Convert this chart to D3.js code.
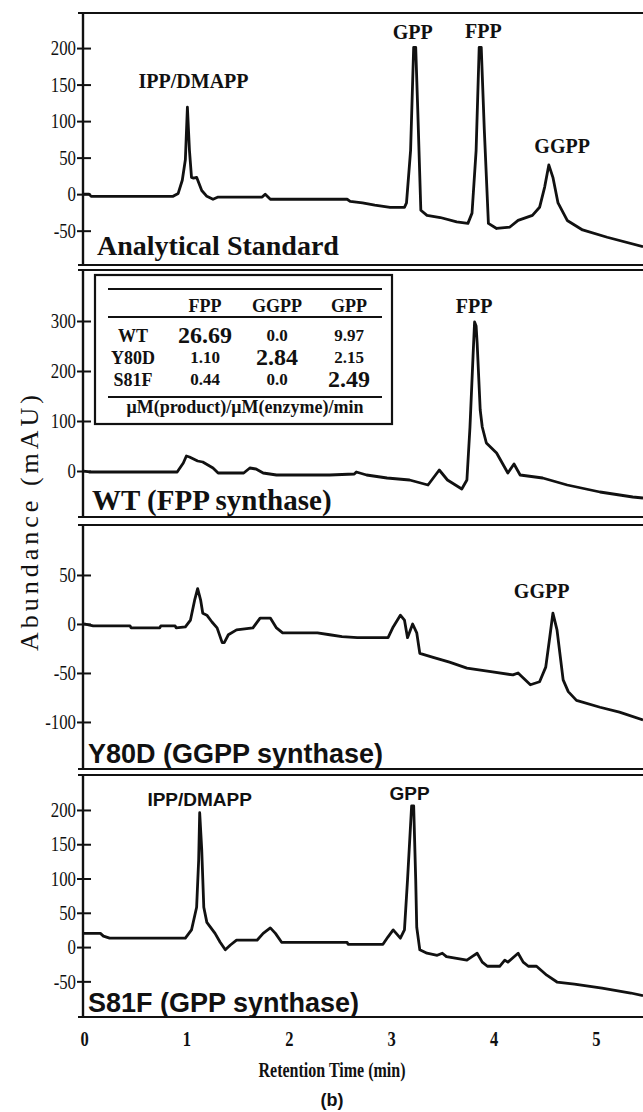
<!DOCTYPE html>
<html>
<head>
<meta charset="utf-8">
<script src="https://cdn.jsdelivr.net/npm/d3@7/dist/d3.min.js"></script>
<style>
  body { margin: 0; background: #fff; }
  svg { display: block; }
</style>
</head>
<body>
<svg id="chart"></svg>
<script>
// <==========================Data===========================================================>
// each trace is [retention time (min), abundance (mAU)]
const stdTrace = [[0,0],[0.05,0],[0.07,-3],[0.87,-3],[0.92,1],[0.96,19],[0.99,47],[1.01,119],[1.03,60],[1.05,23],[1.07,22],[1.10,23],[1.15,5],[1.20,-3],[1.26,-7],[1.31,-4],[1.74,-4],[1.77,0],[1.82,-7],[2.57,-7],[2.60,-10],[2.72,-12],[2.84,-15],[2.99,-18],[3.13,-18],[3.15,-12],[3.19,60],[3.22,201],[3.24,201],[3.26,115],[3.29,-22],[3.35,-29],[3.48,-32],[3.64,-38],[3.75,-40],[3.79,-26],[3.83,60],[3.86,201],[3.88,201],[3.91,88],[3.95,-40],[4.03,-47],[4.16,-45],[4.24,-36],[4.38,-29],[4.45,-18],[4.50,10],[4.54,40],[4.58,23],[4.63,-12],[4.72,-36],[4.87,-49],[5.11,-59],[5.46,-72]];
const wtTrace = [[0,0],[0.05,-2],[0.91,-2],[0.97,16],[1.00,30],[1.03,28],[1.11,20],[1.16,18],[1.26,6],[1.31,-4],[1.56,-4],[1.62,6],[1.68,4],[1.75,-4],[1.88,-8],[2.40,-8],[2.64,-6],[2.66,-2],[2.76,-8],[2.96,-14],[3.18,-18],[3.36,-28],[3.47,2],[3.55,-18],[3.69,-36],[3.74,-18],[3.77,88],[3.80,230],[3.815,298],[3.83,290],[3.84,256],[3.87,122],[3.89,88],[3.93,56],[4.03,36],[4.14,-4],[4.20,14],[4.26,-8],[4.48,-14],[4.72,-28],[5.04,-42],[5.36,-52],[5.46,-54]];
const y80dTrace = [[0,0],[0.09,-2],[0.45,-2],[0.46,-4],[0.74,-4],[0.75,-2],[0.89,-2],[0.90,-4],[0.99,-3],[1.04,4],[1.08,24],[1.11,36],[1.14,24],[1.16,11],[1.20,9],[1.25,2],[1.30,-4],[1.35,-19],[1.37,-19],[1.41,-11],[1.49,-6],[1.65,-4],[1.72,6],[1.82,6],[1.88,-4],[1.94,-9],[2.28,-9],[2.40,-11],[2.52,-13],[2.67,-14],[2.97,-14],[3.02,-3],[3.09,9],[3.13,4],[3.16,-14],[3.21,0],[3.25,-9],[3.28,-30],[3.41,-34],[3.57,-39],[3.74,-45],[3.99,-49],[4.19,-52],[4.24,-50],[4.26,-52],[4.36,-62],[4.45,-59],[4.51,-44],[4.55,-13],[4.58,11],[4.62,-6],[4.68,-57],[4.73,-69],[4.81,-78],[5.04,-85],[5.23,-90],[5.46,-98]];
const s81fTrace = [[0,20],[0.16,20],[0.19,16],[0.25,13],[0.99,13],[1.05,25],[1.10,58],[1.12,127],[1.13,196],[1.15,142],[1.17,58],[1.20,36],[1.28,20],[1.33,7],[1.38,-4],[1.43,3],[1.49,10],[1.69,10],[1.75,20],[1.82,28],[1.87,20],[1.93,7],[2.57,7],[2.58,4],[2.92,4],[2.97,15],[3.02,25],[3.09,13],[3.13,25],[3.16,98],[3.20,206],[3.22,206],[3.24,98],[3.25,29],[3.28,-4],[3.35,-9],[3.45,-12],[3.50,-9],[3.54,-14],[3.74,-19],[3.79,-14],[3.84,-9],[3.89,-22],[3.94,-28],[4.06,-28],[4.11,-19],[4.14,-22],[4.24,-9],[4.29,-22],[4.34,-28],[4.42,-28],[4.52,-41],[4.62,-51],[4.79,-54],[5.06,-60],[5.34,-67],[5.46,-71]];

// peak labels: text, time of label centre, abundance at label baseline
const stdPeaks = [["IPP/DMAPP",1.07,145],["GPP",3.21,212],["FPP",3.90,214],["GGPP",4.67,56]];
const wtPeaks = [["FPP",3.81,316]];
const y80dPeaks = [["GGPP",4.47,27]];
const s81fPeaks = [["IPP/DMAPP",1.13,206],["GPP",3.18,215]];

const panelNames = ["Analytical Standard", "WT (FPP synthase)", "Y80D (GGPP synthase)", "S81F (GPP synthase)"];
const stdTicks = [-50, 0, 50, 100, 150, 200];
const wtTicks = [0, 100, 200, 300];
const y80dTicks = [-100, -50, 0, 50];
const s81fTicks = [-50, 0, 50, 100, 150, 200];
const timeTicks = [0, 1, 2, 3, 4, 5];

// inset table: specific activity
const tableCols = ["FPP", "GGPP", "GPP"];
const tableRows = ["WT", "Y80D", "S81F"];
const tableValues = [["26.69", "0.0", "9.97"], ["1.10", "2.84", "2.15"], ["0.44", "0.0", "2.49"]];
const tableUnit = "μM(product)/μM(enzyme)/min";

// <==========================Layout==============================>
const width = 643;
const height = 1112;
const ink = "#111";
const serif = "'Liberation Serif', 'Times New Roman', serif";
const sans = "'Liberation Sans', Arial, sans-serif";
const axisX = 83;

const panels = [
  { name: panelNames[0], trace: stdTrace, peaks: stdPeaks, ticks: stdTicks, domain: [-97, 248], top: 13, bottom: 265,
    font: serif, titleSize: 28, titleX: 97, titleY: 255, peakSize: 20 },
  { name: panelNames[1], trace: wtTrace, peaks: wtPeaks, ticks: wtTicks, domain: [-92, 402], top: 270, bottom: 517,
    font: serif, titleSize: 29, titleX: 92, titleY: 510, peakSize: 20 },
  { name: panelNames[2], trace: y80dTrace, peaks: y80dPeaks, ticks: y80dTicks, domain: [-148, 101], top: 525, bottom: 769,
    font: serif, titleFont: sans, titleSize: 27, titleX: 88, titleY: 763, peakSize: 20 },
  { name: panelNames[3], trace: s81fTrace, peaks: s81fPeaks, ticks: s81fTicks, domain: [-102, 251], top: 775, bottom: 1017,
    font: sans, titleFont: sans, titleSize: 27, titleX: 88, titleY: 1012, peakSize: 19 },
];

const svg = d3.select("#chart").attr("width", width).attr("height", height);
svg.append("rect").attr("width", width).attr("height", height).attr("fill", "#fff");

const x = d3.scaleLinear().domain([0, 5.46]).range([84, width]);

panels.forEach((p) => {
  const g = svg.append("g");
  const y = d3.scaleLinear().domain(p.domain).range([p.bottom, p.top]);

  // frame: top + bottom rules and the left axis line
  g.append("line").attr("x1", 78).attr("x2", width).attr("y1", p.top).attr("y2", p.top)
    .attr("stroke", ink).attr("stroke-width", 2);
  g.append("line").attr("x1", 78).attr("x2", width).attr("y1", p.bottom).attr("y2", p.bottom)
    .attr("stroke", ink).attr("stroke-width", 2);
  g.append("line").attr("x1", axisX).attr("x2", axisX).attr("y1", p.top).attr("y2", p.bottom)
    .attr("stroke", ink).attr("stroke-width", 2.4);

  // y axis with ticks crossing the axis line
  const yAxisG = g.append("g").attr("transform", `translate(${axisX},0)`)
    .call(d3.axisLeft(y).tickValues(p.ticks).tickFormat((d) => String(d))
      .tickSizeInner(6).tickSizeOuter(0).tickPadding(1));
  yAxisG.select(".domain").remove();
  yAxisG.selectAll(".tick line").attr("x1", 8).attr("stroke", ink).attr("stroke-width", 2);
  yAxisG.selectAll(".tick text")
    .attr("font-family", serif).attr("font-size", 21).attr("fill", ink)
    .attr("x", -7 / 0.8).attr("transform", "scale(0.8,1)");

  // chromatogram
  const line = d3.line().x((d) => x(d[0])).y((d) => y(d[1]));
  g.append("path").datum(p.trace).attr("d", line)
    .attr("fill", "none").attr("stroke", ink).attr("stroke-width", 2.8)
    .attr("stroke-linejoin", "round");

  // peak labels
  g.selectAll(".peak").data(p.peaks).enter().append("text")
    .attr("x", (d) => x(d[1])).attr("y", (d) => y(d[2]))
    .attr("text-anchor", "middle").attr("font-family", p.font).attr("font-weight", "bold")
    .attr("font-size", p.peakSize).attr("fill", ink).text((d) => d[0]);

  // panel title
  g.append("text").attr("x", p.titleX).attr("y", p.titleY)
    .attr("font-family", p.titleFont || serif).attr("font-weight", "bold")
    .attr("font-size", p.titleSize).attr("fill", ink).text(p.name);
});

// <==========================X axis (bottom panel only)==============================>
const xAxisG = svg.append("g").attr("transform", `translate(0,${panels[3].bottom})`)
  .call(d3.axisBottom(x).tickValues(timeTicks).tickFormat((d) => String(d)).tickSize(0).tickPadding(13));
xAxisG.select(".domain").remove();
xAxisG.selectAll(".tick text")
  .attr("font-family", serif).attr("font-weight", "bold").attr("font-size", 22).attr("fill", ink)
  .attr("transform", "scale(0.75,1)");

svg.append("text").attr("transform", "translate(332,1077) scale(0.8,1)")
  .attr("text-anchor", "middle").attr("font-family", serif).attr("font-weight", "bold")
  .attr("font-size", 20).attr("fill", ink).text("Retention Time (min)");

svg.append("text").attr("x", 332).attr("y", 1106)
  .attr("text-anchor", "middle").attr("font-family", sans).attr("font-weight", "bold")
  .attr("font-size", 18).attr("fill", ink).text("(b)");

svg.append("text").attr("transform", "translate(38,521) rotate(-90)")
  .attr("text-anchor", "middle").attr("font-family", serif)
  .attr("font-size", 26).attr("letter-spacing", 4).attr("fill", ink).text("Abundance (mAU)");

// <==========================Inset table (WT panel)==============================>
const colX = d3.scalePoint().domain(["", ...tableCols]).range([133, 349]);
const rowY = d3.scalePoint().domain(tableRows).range([342, 386]);
const tbl = svg.append("g");

tbl.append("rect").attr("x", 95).attr("y", 275).attr("width", 297).attr("height", 149)
  .attr("fill", "#fff").attr("stroke", ink).attr("stroke-width", 2.2);
[289, 317, 397].forEach((ry) => {
  tbl.append("line").attr("x1", 108).attr("x2", 382).attr("y1", ry).attr("y2", ry)
    .attr("stroke", ink).attr("stroke-width", 2);
});

tbl.selectAll(".col").data(tableCols).enter().append("text")
  .attr("x", (d) => colX(d)).attr("y", 312).attr("text-anchor", "middle")
  .attr("font-family", serif).attr("font-weight", "bold").attr("font-size", 18).attr("fill", ink)
  .text((d) => d);

tbl.selectAll(".row").data(tableRows).enter().append("text")
  .attr("x", colX("")).attr("y", (d) => rowY(d)).attr("text-anchor", "middle")
  .attr("font-family", serif).attr("font-weight", "bold").attr("font-size", 18).attr("fill", ink)
  .text((d) => d);

// the highest activity in each row is printed large
tableValues.forEach((vals, i) => {
  const best = d3.max(vals, (v) => +v);
  vals.forEach((v, j) => {
    const big = +v === best;
    tbl.append("text")
      .attr("x", colX(tableCols[j])).attr("y", rowY(tableRows[i]) + (big ? 1 : -1))
      .attr("text-anchor", "middle").attr("font-family", serif).attr("font-weight", "bold")
      .attr("font-size", big ? 24 : 17).attr("fill", ink).text(v);
  });
});

tbl.append("text").attr("x", 245).attr("y", 413).attr("text-anchor", "middle")
  .attr("font-family", serif).attr("font-weight", "bold").attr("font-size", 18).attr("fill", ink)
  .text(tableUnit);
</script>
</body>
</html>
